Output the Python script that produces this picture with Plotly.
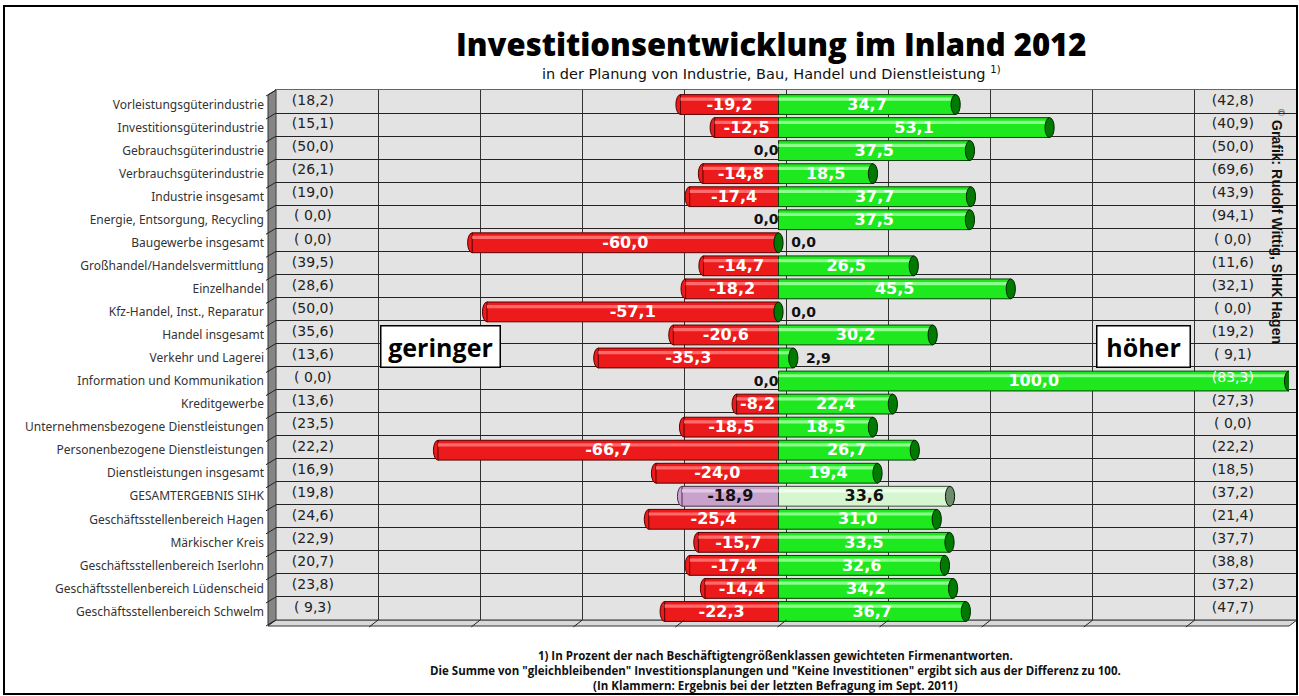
import plotly.graph_objects as go

# ---------------- data ----------------
categories = [
    "Vorleistungsgüterindustrie", "Investitionsgüterindustrie", "Gebrauchsgüterindustrie",
    "Verbrauchsgüterindustrie", "Industrie insgesamt", "Energie, Entsorgung, Recycling",
    "Baugewerbe insgesamt", "Großhandel/Handelsvermittlung", "Einzelhandel",
    "Kfz-Handel, Inst., Reparatur", "Handel insgesamt", "Verkehr und Lagerei",
    "Information und Kommunikation", "Kreditgewerbe", "Unternehmensbezogene Dienstleistungen",
    "Personenbezogene Dienstleistungen", "Dienstleistungen insgesamt", "GESAMTERGEBNIS SIHK",
    "Geschäftsstellenbereich Hagen", "Märkischer Kreis", "Geschäftsstellenbereich Iserlohn",
    "Geschäftsstellenbereich Lüdenscheid", "Geschäftsstellenbereich Schwelm",
]
geringer = [-19.2, -12.5, 0.0, -14.8, -17.4, 0.0, -60.0, -14.7, -18.2, -57.1, -20.6, -35.3,
            0.0, -8.2, -18.5, -66.7, -24.0, -18.9, -25.4, -15.7, -17.4, -14.4, -22.3]
hoeher = [34.7, 53.1, 37.5, 18.5, 37.7, 37.5, 0.0, 26.5, 45.5, 0.0, 30.2, 2.9,
          100.0, 22.4, 18.5, 26.7, 19.4, 33.6, 31.0, 33.5, 32.6, 34.2, 36.7]
prev_geringer = [18.2, 15.1, 50.0, 26.1, 19.0, 0.0, 0.0, 39.5, 28.6, 50.0, 35.6, 13.6,
                 0.0, 13.6, 23.5, 22.2, 16.9, 19.8, 24.6, 22.9, 20.7, 23.8, 9.3]
prev_hoeher = [42.8, 40.9, 50.0, 69.6, 43.9, 94.1, 0.0, 11.6, 32.1, 0.0, 19.2, 9.1,
               83.3, 27.3, 0.0, 22.2, 18.5, 37.2, 21.4, 37.7, 38.8, 37.2, 47.7]
grid_ticks = [-80, -60, -40, -20, 0, 20, 40, 60, 80]
total_label = "GESAMTERGEBNIS SIHK"

# ---------------- helpers ----------------
W, H = 1299, 696
def px(x):
    return x / W
def py(y):
    return 1 - y / H
def de(v):
    return f"{abs(v):4.1f}".replace(".", ",").replace(" ", "\u00a0")
def de_signed(v):
    return ("-" if v < 0 else "") + f"{abs(v):.1f}".replace(".", ",")

rows = list(range(len(categories)))
n = len(categories)
is_total = [c == total_label for c in categories]

RED, RED_HI, RED_LINE = "#ec1a1a", "#ff6a6a", "#5a0000"
GRN, GRN_HI, GRN_LINE, GRN_CAP = "#1ee81e", "#8dff8d", "#004400", "#007a00"
LIL, LIL_HI, LIL_LINE = "#c9a2cc", "#e2c8e4", "#4a304a"
LGR, LGR_HI, LGR_CAP = "#d6f6d0", "#f0fff0", "#6f8a6f"

neg_col = [LIL if t else RED for t in is_total]
neg_hi = [LIL_HI if t else RED_HI for t in is_total]
neg_line = [LIL_LINE if t else RED_LINE for t in is_total]
pos_col = [LGR if t else GRN for t in is_total]
pos_hi = [LGR_HI if t else GRN_HI for t in is_total]
pos_line = ["#3a4a3a" if t else GRN_LINE for t in is_total]
pos_cap = [LGR_CAP if t else GRN_CAP for t in is_total]

fig = go.Figure()

# back wall subplot (grid only)
fig.add_trace(go.Scatter(x=[None], y=[None], xaxis="x", yaxis="y", showlegend=False,
                         hoverinfo="skip"))

BW = 0.86
fig.add_trace(go.Bar(y=rows, x=geringer, orientation="h", xaxis="x2", yaxis="y2", width=BW,
                     marker=dict(color=neg_col, line=dict(color=neg_line, width=1)),
                     showlegend=False, hoverinfo="skip"))
fig.add_trace(go.Bar(y=rows, x=geringer, orientation="h", xaxis="x2", yaxis="y2", width=0.14,
                     offset=-0.30, marker=dict(color=neg_hi, line=dict(width=0)),
                     showlegend=False, hoverinfo="skip"))
fig.add_trace(go.Bar(y=rows, x=hoeher, orientation="h", xaxis="x2", yaxis="y2", width=BW,
                     marker=dict(color=pos_col, line=dict(color=pos_line, width=1)),
                     showlegend=False, hoverinfo="skip"))
fig.add_trace(go.Bar(y=rows, x=hoeher, orientation="h", xaxis="x2", yaxis="y2", width=0.14,
                     offset=-0.30, marker=dict(color=pos_hi, line=dict(width=0)),
                     showlegend=False, hoverinfo="skip"))

shapes = []
shapes.append(dict(type="rect", xref="paper", yref="paper", x0=px(276), x1=px(1297),
                   y0=py(620), y1=py(90), fillcolor="#e3e3e3", line=dict(width=0),
                   layer="below"))
shapes.append(dict(type="path", xref="paper", yref="paper",
                   path=f"M {px(268)},{py(95)} L {px(276)},{py(90)} L {px(276)},{py(620)} "
                        f"L {px(268)},{py(625)} Z",
                   fillcolor="#858585", line=dict(color="#333", width=1), layer="below"))
for k in range(n + 1):
    yb = 90 + k * 530 / n
    shapes.append(dict(type="line", xref="paper", yref="paper", x0=px(266), y0=py(yb + 6),
                       x1=px(276), y1=py(yb), line=dict(color="#222", width=1), layer="above"))
shapes.append(dict(type="path", xref="paper", yref="paper",
                   path=f"M {px(276)},{py(620)} L {px(1297)},{py(620)} L {px(1289)},{py(626)} "
                        f"L {px(268)},{py(626)} Z",
                   fillcolor="#d9d9d9", line=dict(color="#333", width=1), layer="below"))
for v in grid_ticks:
    xb = 276 + (v + 100) / 200 * 1021
    shapes.append(dict(type="line", xref="paper", yref="paper", x0=px(xb), y0=py(620),
                       x1=px(xb - 9), y1=py(627), line=dict(color="#222", width=1)))

for i in rows:
    v = geringer[i]
    if v < 0:
        shapes.append(dict(type="circle", xref="x2", yref="y2", x0=v - 0.9, x1=v + 0.9,
                           y0=i - BW / 2, y1=i + BW / 2, fillcolor=neg_col[i],
                           line=dict(color=neg_line[i], width=1), layer="between"))
    v = hoeher[i]
    shapes.append(dict(type="circle", xref="x2", yref="y2", x0=v - 0.9, x1=v + 0.9,
                       y0=i - BW / 2, y1=i + BW / 2, fillcolor=pos_cap[i],
                       line=dict(color="#002200", width=1), layer="above"))

shapes.append(dict(type="rect", xref="paper", yref="paper", x0=px(4), x1=px(1297),
                   y0=py(694), y1=py(6), line=dict(color="#000", width=2)))

lab_font = dict(family="DejaVu Sans", size=16)
in_x, in_y, in_t, in_c = [], [], [], []
out_x, out_y, out_t, out_pos = [], [], [], []
for i in rows:
    for v in (geringer[i], hoeher[i]):
        if abs(v) >= 5:
            in_x.append(v / 2)
            in_y.append(i + 0.05)
            in_t.append(f"<b>{de_signed(v)}</b>")
            in_c.append("#111" if is_total[i] else "#fff")
    if geringer[i] == 0:
        out_x.append(0)
        out_y.append(i + 0.05)
        out_t.append(f"<b>{de_signed(geringer[i])}</b>")
        out_pos.append("middle left")
    if hoeher[i] < 5:
        out_x.append(hoeher[i] + 2.5)
        out_y.append(i + 0.05)
        out_t.append(f"<b>{de_signed(hoeher[i])}</b>")
        out_pos.append("middle right")

fig.add_trace(go.Scatter(x=in_x, y=in_y, mode="text", text=in_t, xaxis="x2", yaxis="y2",
                         textfont=dict(color=in_c, **lab_font), textposition="middle center",
                         showlegend=False, hoverinfo="skip"))
fig.add_trace(go.Scatter(x=out_x, y=out_y, mode="text", text=out_t, xaxis="x2", yaxis="y2",
                         textfont=dict(color="#111", family="DejaVu Sans", size=14),
                         textposition=out_pos, showlegend=False, hoverinfo="skip"))

fig.add_trace(go.Scatter(x=[-91.2] * n, y=[i - 0.12 for i in rows], mode="text",
                         text=[f"({de(v)})" for v in prev_geringer], xaxis="x2", yaxis="y2",
                         textfont=dict(family="DejaVu Sans", size=14, color="#222"),
                         showlegend=False, hoverinfo="skip"))
fig.add_trace(go.Scatter(x=[89.0] * n, y=[i - 0.12 for i in rows], mode="text",
                         text=[f"({de(v)})" for v in prev_hoeher], xaxis="x2", yaxis="y2",
                         textfont=dict(family="DejaVu Sans", size=14,
                                       color=["#fff" if h > 92 else "#222" for h in hoeher]),
                         showlegend=False, hoverinfo="skip"))

def ann(x, y, text, font, **kw):
    d = dict(x=px(x), y=py(y), xref="paper", yref="paper", showarrow=False,
             xanchor="center", yanchor="middle", text=text, font=font)
    d.update(kw)
    return d

annotations = [
    ann(771, 44, "Investitionsentwicklung im Inland 2012",
        dict(family="Open Sans", size=31, color="#000", weight=800)),
    ann(771, 73, "in der Planung von Industrie, Bau, Handel und Dienstleistung <sup>1)</sup>",
        dict(family="DejaVu Sans", size=14.5, color="#111")),
    ann(440, 346, "<b>geringer</b>", dict(family="Open Sans", size=25, color="#000"),
        bgcolor="#fff", bordercolor="#000", borderwidth=1.5, borderpad=2, width=114, height=36),
    ann(1143.5, 346, "<b>höher</b>", dict(family="Open Sans", size=25, color="#000"),
        bgcolor="#fff", bordercolor="#000", borderwidth=1.5, borderpad=2, width=88, height=36),
    ann(1278, 226, "<sup>©</sup> <b>Grafik: Rudolf Wittig, SIHK Hagen</b>",
        dict(family="Liberation Sans", size=14, color="#111"), textangle=90),
    ann(775, 670,
        "<b>1) In Prozent der nach Beschäftigtengrößenklassen gewichteten Firmenantworten."
        "<br>Die Summe von \"gleichbleibenden\" Investitionsplanungen und \"Keine Investitionen\" "
        "ergibt sich aus der Differenz zu 100.<br>(In Klammern: Ergebnis bei der letzten "
        "Befragung im Sept. 2011)</b>",
        dict(family="Open Sans", size=11.5, color="#111"), align="center"),
]

fig.update_layout(
    width=W, height=H, autosize=False,
    margin=dict(l=0, r=0, t=0, b=0),
    paper_bgcolor="#fff", plot_bgcolor="rgba(0,0,0,0)",
    barmode="overlay", showlegend=False,
    xaxis=dict(domain=[px(276), px(1297)], range=[-100, 100], tickvals=grid_ticks,
               showgrid=True, gridcolor="#333", gridwidth=1, zeroline=False,
               showticklabels=False, ticks="", showline=True, mirror=True,
               linecolor="#666", linewidth=1, anchor="y", fixedrange=True),
    yaxis=dict(domain=[py(620), py(90)], range=[n - 0.5, -0.5],
               tickvals=[k - 0.5 for k in range(n + 1)], showgrid=True, gridcolor="#222",
               gridwidth=1, zeroline=False, showticklabels=False, ticks="", showline=True,
               mirror=True, linecolor="#666", linewidth=1, anchor="x", fixedrange=True),
    xaxis2=dict(domain=[px(268), px(1289)], range=[-100, 100], visible=False, anchor="y2",
                fixedrange=True),
    yaxis2=dict(domain=[py(623), py(93)], range=[n - 0.5, -0.5], tickvals=rows,
                ticktext=categories, showgrid=False, zeroline=False, ticks="",
                showline=False, anchor="x2", side="left", ticklabelstandoff=3,
                tickfont=dict(family="Noto Sans", size=12, color="#333"), fixedrange=True),
    shapes=shapes, annotations=annotations,
)

fig.write_html("out.html", config={"displayModeBar": False},
               post_script="document.body.style.margin='0';"
                           "document.body.style.overflow='hidden';")
